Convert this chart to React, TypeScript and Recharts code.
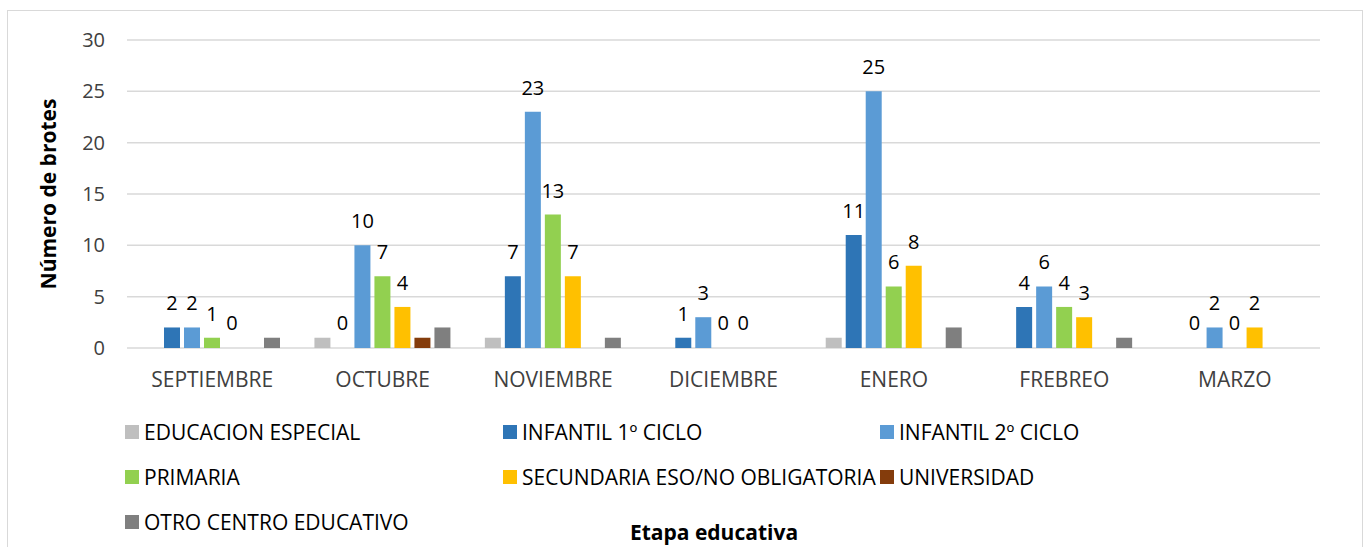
import React from "react";
import { BarChart, Bar, XAxis, YAxis, CartesianGrid, LabelList, Cell } from "recharts";

const months = ["SEPTIEMBRE", "OCTUBRE", "NOVIEMBRE", "DICIEMBRE", "ENERO", "FREBREO", "MARZO"];
const educacionEspecial = [0, 1, 1, 0, 1, 0, 0];
const infantil1 = [2, 0, 7, 1, 11, 4, 0];
const infantil2 = [2, 10, 23, 3, 25, 6, 2];
const primaria = [1, 7, 13, 0, 6, 4, 0];
const secundaria = [0, 4, 7, 0, 8, 3, 2];
const universidad = [0, 1, 0, 0, 0, 0, 0];
const otroCentro = [1, 2, 1, 0, 2, 1, 0];
const yTicks = [0, 5, 10, 15, 20, 25, 30];

const series = [
  { key: "ee", name: "EDUCACION ESPECIAL", values: educacionEspecial, color: "#bfbfbf", labels: false },
  { key: "inf1", name: "INFANTIL 1º CICLO", values: infantil1, color: "#2e75b6", labels: true },
  { key: "inf2", name: "INFANTIL 2º CICLO", values: infantil2, color: "#5b9bd5", labels: true },
  { key: "prim", name: "PRIMARIA", values: primaria, color: "#92d050", labels: true },
  { key: "sec", name: "SECUNDARIA ESO/NO OBLIGATORIA", values: secundaria, color: "#ffc000", labels: true },
  { key: "univ", name: "UNIVERSIDAD", values: universidad, color: "#843c0c", labels: false },
  { key: "otro", name: "OTRO CENTRO EDUCATIVO", values: otroCentro, color: "#7f7f7f", labels: false },
];

const data = months.map((m, i) => {
  const row: Record<string, string | number> = { month: m };
  series.forEach((s) => (row[s.key] = s.values[i]));
  return row;
});

const FONT = "'Open Sans', sans-serif";

export default function App() {
  return (
    <div style={{ position: "absolute", left: 0, top: 0, width: 1364, height: 547, background: "#fff", fontFamily: FONT, overflow: "hidden" }}>
      <div style={{ position: "absolute", left: 7, top: 10, width: 1354, height: 560, border: "1px solid #d9d9d9" }} />
      <BarChart
        width={1364}
        height={547}
        data={data}
        margin={{ top: 40, right: 44, left: 67, bottom: 169 }}
        barSize={16}
        barGap={4}
        style={{ position: "absolute", left: 0, top: 0 }}
      >
        <CartesianGrid stroke="#d9d9d9" strokeWidth={1.5} vertical={false} />
        <XAxis
          dataKey="month"
          axisLine={false}
          tickLine={false}
          tickMargin={18}
          height={30}
          interval={0}
          tick={{ fill: "#404040", fontSize: 21, fontFamily: FONT }}
        />
        <YAxis
          domain={[0, 30]}
          ticks={yTicks}
          axisLine={false}
          tickLine={false}
          tickMargin={16}
          width={60}
          tick={{ fill: "#404040", fontSize: 20, fontFamily: FONT }}
          label={{
            value: "Número de brotes",
            angle: -90,
            position: "insideLeft",
            offset: -18,
            style: { textAnchor: "middle", fontWeight: "bold", fontSize: 21, fill: "#000", fontFamily: FONT },
          }}
        />
        {series.map((s) => (
          <Bar
            key={s.key}
            dataKey={s.key}
            name={s.name}
            fill={s.color}
            minPointSize={s.labels ? 1 : 0}
            isAnimationActive={false}
          >
            {s.values.map((v, i) => (
              <Cell key={i} fill={v === 0 ? "transparent" : s.color} />
            ))}
            {s.labels && (
              <LabelList dataKey={s.key} position="top" offset={17} style={{ fill: "#000", fontSize: 20, fontFamily: FONT }} />
            )}
          </Bar>
        ))}
      </BarChart>
      <div
        style={{
          position: "absolute",
          left: 125,
          top: 420,
          display: "grid",
          gridTemplateColumns: "378px 377px 400px",
          gridAutoRows: "45px",
          fontSize: 21,
          color: "#000",
        }}
      >
        {series.map((s) => (
          <div key={s.key} style={{ display: "flex", alignItems: "center", height: 24, whiteSpace: "nowrap" }}>
            <span style={{ display: "inline-block", width: 14, height: 14, background: s.color, marginRight: 5 }} />
            <span>{s.name}</span>
          </div>
        ))}
      </div>
      <div
        style={{
          position: "absolute",
          left: 0,
          width: 1428,
          top: 518,
          textAlign: "center",
          fontWeight: "bold",
          fontSize: 21,
          lineHeight: "28px",
          color: "#000",
        }}
      >
        Etapa educativa
      </div>
    </div>
  );
}
